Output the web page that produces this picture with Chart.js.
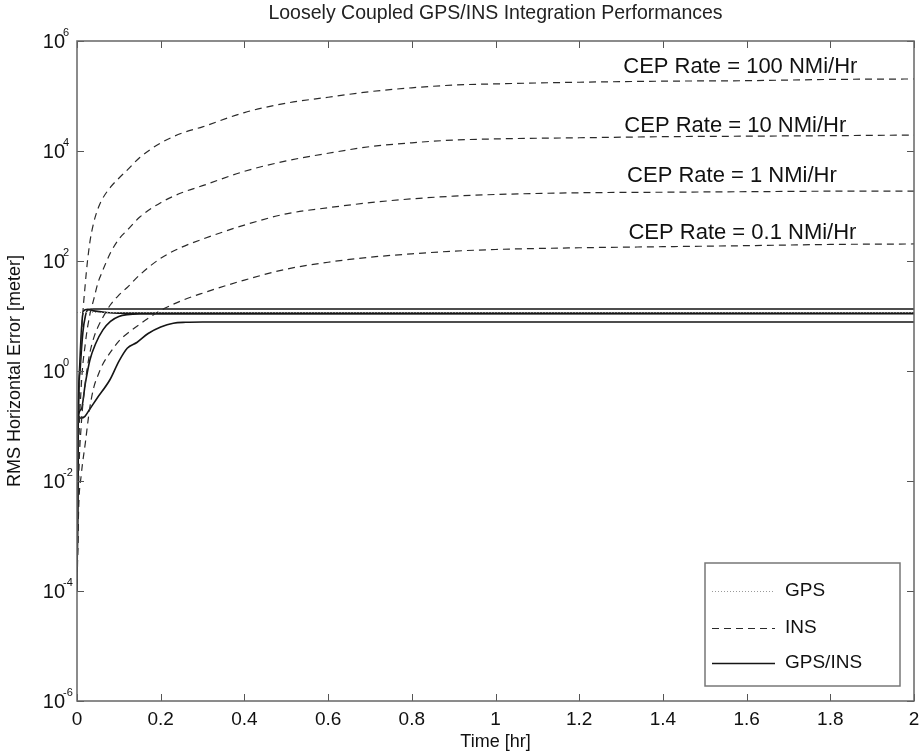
<!DOCTYPE html>
<html>
<head>
<meta charset="utf-8">
<title>Loosely Coupled GPS/INS Integration Performances</title>
<script src="https://cdn.jsdelivr.net/npm/chart.js@4.4.0/dist/chart.umd.min.js"></script>
<style>
  html, body { margin: 0; padding: 0; background: #fff; }
  #wrap { width: 919px; height: 753px; }
</style>
</head>
<body>
<div id="wrap"><canvas id="chart" width="919" height="753"></canvas></div>
<script>
// time grid (hr) for the INS curves
const timeIns = [0, 0.004, 0.01, 0.02, 0.03, 0.04, 0.05, 0.06, 0.08, 0.1, 0.12, 0.15, 0.2, 0.25, 0.3,
                 0.4, 0.5, 0.6, 0.7, 0.8, 0.9, 1.0, 1.2, 1.4, 1.6, 1.8, 2.0];

// INS only RMS horizontal error [m], one per CEP rate
const ins100 = [1e-4, 0.1, 3.2, 40, 200, 500, 890, 1320, 2200, 3200, 4500, 7600, 14000, 21000, 27500,
                50000, 74000, 95000, 120000, 141000, 158000, 166000, 178000, 186000, 190000, 200000, 204000];
const ins10 = [1e-4, 0.03, 0.5, 3.2, 10, 20, 40, 63, 141, 250, 363, 630, 1150, 1740, 2340,
               4270, 6600, 9100, 12000, 14100, 15800, 16600, 17400, 18200, 18600, 19000, 19500];
const ins1 = [1e-4, 0.01, 0.1, 0.63, 2, 4, 6.3, 8.9, 16, 24, 33, 56, 112, 178, 250,
              450, 720, 930, 1150, 1350, 1510, 1620, 1740, 1780, 1820, 1860, 1870];
const ins01 = [1e-4, 0.0032, 0.0126, 0.05, 0.2, 0.5, 0.83, 1.26, 2.2, 3.5, 4.8, 7.1, 12.6, 19, 26,
               45, 71, 95, 117, 135, 151, 162, 174, 182, 190, 200, 204];

// GPS/INS integrated solutions
const timeGi1 = [0, 0.003, 0.008, 0.014, 0.02, 0.026, 0.04, 2.0];
const gpsIns1 = [1e-4, 0.14, 1.2, 5, 10, 13, 13.4, 13.4];
const timeGi2 = [0, 0.003, 0.007, 0.012, 0.016, 0.025, 0.04, 0.07, 0.1, 2.0];
const gpsIns2 = [1e-4, 0.14, 1.5, 8, 12.5, 13.2, 12.4, 11.6, 11.3, 11.3];
const timeGi3 = [0, 0.003, 0.01, 0.02, 0.031, 0.045, 0.062, 0.08, 0.1, 0.12, 0.15, 2.0];
const gpsIns3 = [1e-4, 0.14, 0.2, 0.6, 1.6, 3.2, 5.6, 8, 9.8, 10.6, 10.9, 11.0];
const timeGi4 = [0, 0.003, 0.01, 0.019, 0.03, 0.048, 0.079, 0.1, 0.12, 0.143, 0.17, 0.2, 0.23, 0.26, 0.3, 2.0];
const gpsIns4 = [1e-4, 0.14, 0.14, 0.15, 0.2, 0.32, 0.7, 1.5, 2.6, 3.3, 4.8, 6.3, 7.4, 7.7, 7.8, 7.8];

// GPS only
const timeGps = [0, 2.0];
const gpsOnly = [11.6, 11.6];

// axes
const xTicks = [0, 0.2, 0.4, 0.6, 0.8, 1, 1.2, 1.4, 1.6, 1.8, 2];
const xTickLabels = ['0', '0.2', '0.4', '0.6', '0.8', '1', '1.2', '1.4', '1.6', '1.8', '2'];
const yTickExponents = [-6, -4, -2, 0, 2, 4, 6];

const cepLabels = ['CEP Rate = 100 NMi/Hr', 'CEP Rate = 10 NMi/Hr', 'CEP Rate = 1 NMi/Hr', 'CEP Rate = 0.1 NMi/Hr'];
const legendLabels = ['GPS', 'INS', 'GPS/INS'];

const FONT = '"Liberation Sans", Arial, Helvetica, sans-serif';
const INS_STYLE = { borderColor: '#2a2a2a', borderWidth: 1.2, borderDash: [7, 5] };
const GI_STYLE = { borderColor: '#151515', borderWidth: 1.6, borderDash: [] };
const GPS_STYLE = { borderColor: '#9a9a9a', borderWidth: 1, borderDash: [1, 2] };

function toPoints(ts, vs) {
    return ts.map((t, i) => ({ x: t, y: vs[i] }));
}

function line(label, ts, vs, style) {
    return Object.assign({
        label: label,
        data: toPoints(ts, vs),
        pointRadius: 0,
        fill: false,
        cubicInterpolationMode: 'monotone'
    }, style);
}

// frame, inward ticks, tick labels, titles, text notes and legend (MATLAB look)
const matlabAxes = {
    id: 'matlabAxes',
    afterDraw(chart) {
        const { ctx, chartArea: a, scales } = chart;
        const x = scales.x, y = scales.y;
        ctx.save();

        // ticks
        ctx.strokeStyle = '#555';
        ctx.lineWidth = 1;
        ctx.beginPath();
        xTicks.forEach(v => {
            const px = Math.round(x.getPixelForValue(v)) + 0.5;
            ctx.moveTo(px, a.bottom); ctx.lineTo(px, a.bottom - 7);
            ctx.moveTo(px, a.top); ctx.lineTo(px, a.top + 7);
        });
        yTickExponents.forEach(e => {
            const py = Math.round(y.getPixelForValue(Math.pow(10, e))) + 0.5;
            ctx.moveTo(a.left, py); ctx.lineTo(a.left + 7, py);
            ctx.moveTo(a.right, py); ctx.lineTo(a.right - 7, py);
        });
        ctx.stroke();

        // frame
        ctx.strokeStyle = '#666';
        ctx.lineWidth = 1.5;
        ctx.strokeRect(a.left, a.top, a.right - a.left, a.bottom - a.top);

        // x tick labels
        ctx.fillStyle = '#111';
        ctx.font = '19px ' + FONT;
        ctx.textAlign = 'center';
        ctx.textBaseline = 'middle';
        xTicks.forEach((v, i) => ctx.fillText(xTickLabels[i], x.getPixelForValue(v), a.bottom + 19));

        // y tick labels 10^e
        yTickExponents.forEach(e => {
            const py = y.getPixelForValue(Math.pow(10, e));
            ctx.font = '20px ' + FONT;
            ctx.textAlign = 'right';
            ctx.fillText('10', a.left - 12, py + 1);
            ctx.font = '11px ' + FONT;
            ctx.textAlign = 'left';
            ctx.fillText(String(e), a.left - 14, py - 8);
        });

        // title + axis titles
        const cx = (a.left + a.right) / 2;
        ctx.fillStyle = '#222';
        ctx.font = '19.5px ' + FONT;
        ctx.textAlign = 'center';
        ctx.fillText('Loosely Coupled GPS/INS Integration Performances', cx, 14);
        ctx.fillStyle = '#111';
        ctx.font = '18px ' + FONT;
        ctx.fillText('Time [hr]', cx, a.bottom + 41);
        ctx.save();
        ctx.translate(15, (a.top + a.bottom) / 2);
        ctx.rotate(-Math.PI / 2);
        ctx.fillText('RMS Horizontal Error [meter]', 0, 0);
        ctx.restore();

        // CEP notes, anchored in data units
        const notes = [[1.585, 3.4e5], [1.573, 2.85e4], [1.565, 3.5e3], [1.59, 3.25e2]];
        ctx.font = '22px ' + FONT;
        ctx.fillStyle = '#111';
        notes.forEach((n, i) => ctx.fillText(cepLabels[i], x.getPixelForValue(n[0]), y.getPixelForValue(n[1])));

        // legend
        const lx = 705, ly = 563, lw = 195, lh = 123;
        ctx.fillStyle = '#fff';
        ctx.fillRect(lx, ly, lw, lh);
        ctx.strokeStyle = '#777';
        ctx.lineWidth = 1.5;
        ctx.strokeRect(lx, ly, lw, lh);
        const rows = [591, 628, 663];
        const styles = [GPS_STYLE, INS_STYLE, GI_STYLE];
        rows.forEach((ry, i) => {
            ctx.beginPath();
            ctx.strokeStyle = styles[i].borderColor;
            ctx.lineWidth = styles[i].borderWidth;
            ctx.setLineDash(styles[i].borderDash);
            ctx.moveTo(712, ry + 0.5);
            ctx.lineTo(775, ry + 0.5);
            ctx.stroke();
            ctx.setLineDash([]);
            ctx.fillStyle = '#111';
            ctx.font = '19px ' + FONT;
            ctx.textAlign = 'left';
            ctx.fillText(legendLabels[i], 785, ry);
        });

        ctx.restore();
    }
};

new Chart(document.getElementById('chart'), {
    type: 'line',
    data: {
        datasets: [
            line('GPS', timeGps, gpsOnly, GPS_STYLE),
            line('INS 100', timeIns, ins100, INS_STYLE),
            line('INS 10', timeIns, ins10, INS_STYLE),
            line('INS 1', timeIns, ins1, INS_STYLE),
            line('INS 0.1', timeIns, ins01, INS_STYLE),
            line('GPS/INS 1', timeGi1, gpsIns1, GI_STYLE),
            line('GPS/INS 2', timeGi2, gpsIns2, GI_STYLE),
            line('GPS/INS 3', timeGi3, gpsIns3, GI_STYLE),
            line('GPS/INS 4', timeGi4, gpsIns4, GI_STYLE)
        ]
    },
    options: {
        responsive: false,
        devicePixelRatio: 1,
        animation: false,
        layout: { padding: { left: 77, right: 5, top: 41, bottom: 52 } },
        plugins: { legend: { display: false }, tooltip: { enabled: false }, title: { display: false } },
        scales: {
            x: { type: 'linear', min: 0, max: 2, display: false },
            y: { type: 'logarithmic', min: 1e-6, max: 1e6, display: false }
        }
    },
    plugins: [matlabAxes]
});
</script>
</body>
</html>
